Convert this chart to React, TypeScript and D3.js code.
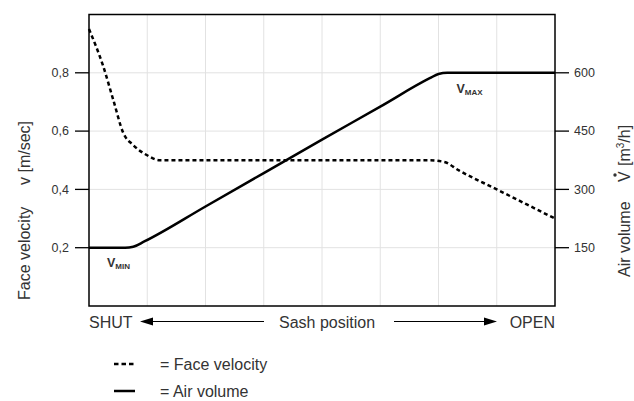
import React from "react";
import * as d3 from "d3";

// Sash position scale 0 (SHUT) .. 8 (OPEN)
const xGrid = [1, 2, 3, 4, 5, 6, 7];
const velocityTicks = [0.2, 0.4, 0.6, 0.8];
const velocityTickLabels = ["0,2", "0,4", "0,6", "0,8"];
const volumeTicks = [150, 300, 450, 600];
const volumeTickLabels = ["150", "300", "450", "600"];

const faceVelocityX = [0, 0.245, 0.417, 0.59, 0.76, 0.99, 1.22, 3, 5.85, 6.1, 6.35, 7, 8];
const faceVelocityY = [0.95, 0.822, 0.707, 0.593, 0.552, 0.518, 0.5, 0.5, 0.5, 0.494, 0.465, 0.4, 0.3];

const airVolumeX = [0, 0.62, 0.76, 0.95, 2, 3, 4, 5, 5.85, 6.0, 6.15, 8];
const airVolumeY = [150, 150, 152.5, 166, 256, 342, 428, 513, 586, 597, 600, 600];

const W = 634;
const H = 401;
const L = 89, R = 555, T = 14.5, B = 306;

export default function App() {
  const x = d3.scaleLinear().domain([0, 8]).range([L, R]);
  const yV = d3.scaleLinear().domain([0, 1]).range([B, T]);
  const yQ = d3.scaleLinear().domain([0, 750]).range([B, T]);

  const fv = faceVelocityX.map((d, i) => [d, faceVelocityY[i]] as [number, number]);
  const av = airVolumeX.map((d, i) => [d, airVolumeY[i]] as [number, number]);

  const lineV = d3.line<[number, number]>().x(d => x(d[0])).y(d => yV(d[1])).curve(d3.curveMonotoneX);
  const lineQ = d3.line<[number, number]>().x(d => x(d[0])).y(d => yQ(d[1])).curve(d3.curveMonotoneX);

  const font = "Arial, 'Liberation Sans', sans-serif";
  const txt = "#333";

  return (
    <svg width={W} height={H} style={{ position: "absolute", left: 0, top: 0, background: "#fff" }} fontFamily={font}>
      {/* grid */}
      {xGrid.map(g => (
        <line key={"gx" + g} x1={x(g)} x2={x(g)} y1={T} y2={B} stroke="#e2e2e2" strokeWidth={1} />
      ))}
      {velocityTicks.map(t => (
        <line key={"gy" + t} x1={L} x2={R} y1={yV(t)} y2={yV(t)} stroke="#e2e2e2" strokeWidth={1} />
      ))}
      {/* frame */}
      <rect x={L} y={T} width={R - L} height={B - T} fill="none" stroke="#000" strokeWidth={1.5} />
      {/* left ticks */}
      {velocityTicks.map((t, i) => (
        <g key={"lt" + t}>
          <line x1={L - 14} x2={L} y1={yV(t)} y2={yV(t)} stroke="#000" strokeWidth={1.3} />
          <text x={69} y={yV(t)} dy="0.35em" textAnchor="end" fontSize={12.5} fill={txt}>{velocityTickLabels[i]}</text>
        </g>
      ))}
      {/* right ticks */}
      {volumeTicks.map((t, i) => (
        <g key={"rt" + t}>
          <line x1={R} x2={R + 14} y1={yQ(t)} y2={yQ(t)} stroke="#000" strokeWidth={1.3} />
          <text x={574} y={yQ(t)} dy="0.35em" textAnchor="start" fontSize={12.5} fill={txt}>{volumeTickLabels[i]}</text>
        </g>
      ))}
      {/* series */}
      <path d={lineV(fv) || ""} fill="none" stroke="#000" strokeWidth={2.5} strokeDasharray="4,3" />
      <path d={lineQ(av) || ""} fill="none" stroke="#000" strokeWidth={2.5} />
      {/* V labels */}
      <text x={107} y={267} fontSize={12.5} fontWeight="bold" fill={txt}>V<tspan fontSize={8} dy={1.5}>MIN</tspan></text>
      <text x={456.5} y={93} fontSize={12.5} fontWeight="bold" fill={txt}>V<tspan fontSize={8} dy={1.5}>MAX</tspan></text>
      {/* left title */}
      <g transform="translate(30,0) rotate(-90)">
        <text x={-300} y={0} fontSize={16} fill={txt}>Face velocity</text>
        <text x={-185} y={0} fontSize={16} fill={txt}>v [m/sec]</text>
      </g>
      {/* right title */}
      <g transform="translate(630,0) rotate(-90)">
        <text x={-277} y={0} fontSize={16} fill={txt}>Air volume</text>
        <text x={-182} y={0} fontSize={16} fill={txt}>V</text>
        <circle cx={-175} cy={-15} r={1.7} fill={txt} />
        <text x={-166} y={0} fontSize={16} fill={txt}>[m<tspan fontSize={10} dy={-6}>3</tspan><tspan dy={6}>/h]</tspan></text>
      </g>
      {/* bottom axis labels */}
      <text x={89} y={327.5} fontSize={16} fill={txt}>SHUT</text>
      <line x1={150} x2={264} y1={321.5} y2={321.5} stroke="#000" strokeWidth={1.2} />
      <path d="M140,321.5 L153,317.5 L153,325.5 Z" fill="#000" />
      <text x={327} y={327.5} fontSize={16} fill={txt} textAnchor="middle">Sash position</text>
      <line x1={394} x2={487} y1={321.5} y2={321.5} stroke="#000" strokeWidth={1.2} />
      <path d="M497,321.5 L484,317.5 L484,325.5 Z" fill="#000" />
      <text x={555} y={327.5} fontSize={16} fill={txt} textAnchor="end">OPEN</text>
      {/* legend */}
      <line x1={114} x2={135} y1={364} y2={364} stroke="#000" strokeWidth={2.5} strokeDasharray="4.5,3" />
      <text x={160} y={369.5} fontSize={16} fill={txt}>= Face velocity</text>
      <line x1={114} x2={135} y1={391} y2={391} stroke="#000" strokeWidth={2.5} />
      <text x={160} y={396.5} fontSize={16} fill={txt}>= Air volume</text>
    </svg>
  );
}
